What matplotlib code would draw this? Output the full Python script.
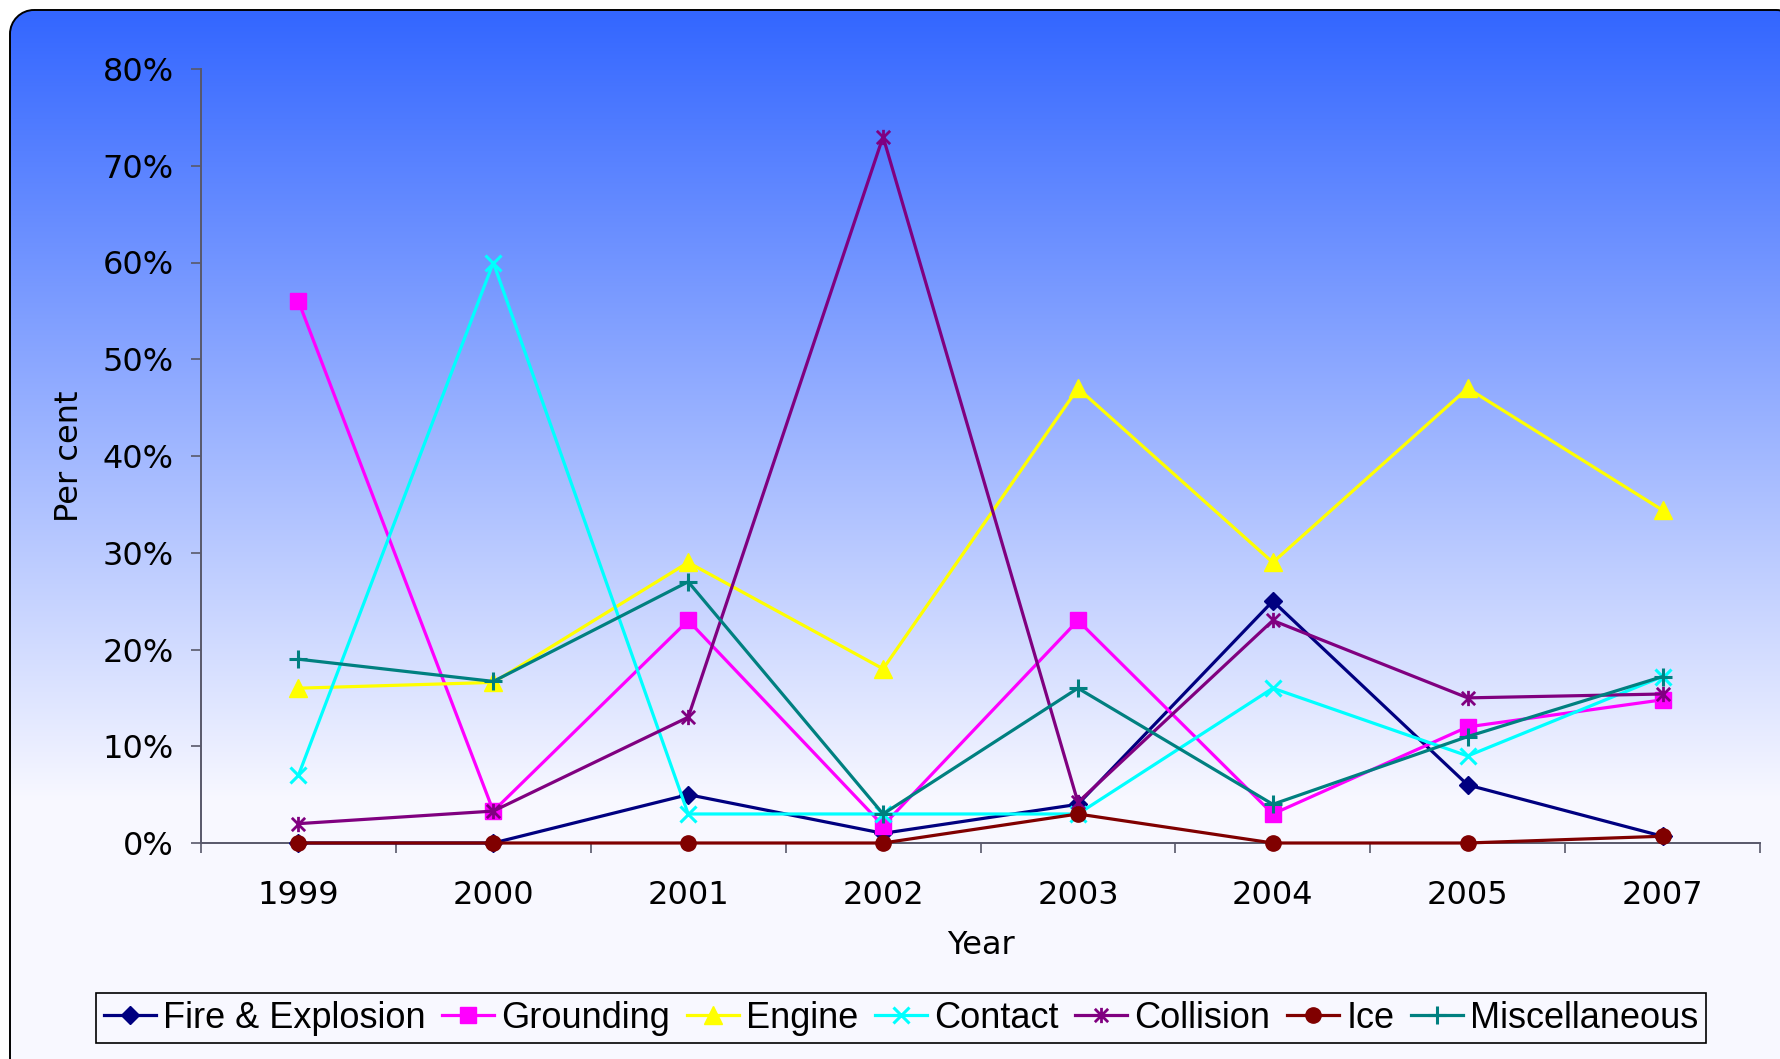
import numpy as np
import matplotlib
matplotlib.use("Agg")
import matplotlib.pyplot as plt
from matplotlib.patches import PathPatch
from matplotlib.path import Path
from matplotlib.transforms import IdentityTransform
from matplotlib.ticker import FuncFormatter

# ---------------- data ----------------
years = ["1999", "2000", "2001", "2002", "2003", "2004", "2005", "2007"]
fire_explosion = [0, 0, 5, 1, 4, 25, 6, 0.7]
grounding = [56, 3.3, 23, 1.8, 23, 3, 12, 14.8]
engine = [16, 16.6, 29, 18, 47, 29, 47, 34.4]
contact = [7, 60, 3, 3, 3, 16, 9, 17.2]
collision = [2, 3.3, 13, 73, 4.2, 23, 15, 15.4]
ice = [0, 0, 0, 0, 3, 0, 0, 0.7]
miscellaneous = [19, 16.7, 27, 3, 16, 4, 11, 17.2]

series_names = ["Fire & Explosion", "Grounding", "Engine", "Contact",
                "Collision", "Ice", "Miscellaneous"]
series_values = [fire_explosion, grounding, engine, contact,
                 collision, ice, miscellaneous]

# ---------------- styles ----------------
star = Path([(-1, -1), (1, 1), (-1, 1), (1, -1), (0, -1.15), (0, 1.15)],
            [Path.MOVETO, Path.LINETO, Path.MOVETO, Path.LINETO,
             Path.MOVETO, Path.LINETO])
styles = [
    dict(color="#000080", marker="D", ms=9.5),
    dict(color="#FF00FF", marker="s", ms=11.5),
    dict(color="#FFFF00", marker="^", ms=12.5),
    dict(color="#00FFFF", marker="x", ms=11, mew=2.2),
    dict(color="#800080", marker=star, ms=11, mew=2.0),
    dict(color="#800000", marker="o", ms=11),
    dict(color="#008080", marker="+", ms=13, mew=2.2),
]

W, H = 1780, 1059
fig = plt.figure(figsize=(W / 100, H / 100), dpi=100)

# ---------------- gradient background with rounded border ----------------
yy = np.arange(H)
t = np.clip((yy - 10) / 790.0, 0, 1)
top = np.array([0x33, 0x66, 0xFF], dtype=float)
bot = np.array([0xF8, 0xF8, 0xFF], dtype=float)
col = top[None, :] * (1 - t[:, None]) + bot[None, :] * t[:, None]
img = np.repeat(col[:, None, :], W, axis=1).astype(np.uint8)
im = fig.figimage(img, 0, 0, origin="upper", zorder=-10)

# rounded rectangle in pixel coords (given top-down, converted to display y-up)
x0, y0, x1, y1, r = 10, 10, 1800, 1082, 24
k = 0.5523 * r
td = [
    (x0 + r, y0), (x1 - r, y0),
    (x1 - r + k, y0), (x1, y0 + r - k), (x1, y0 + r),
    (x1, y1 - r),
    (x1, y1 - r + k), (x1 - r + k, y1), (x1 - r, y1),
    (x0 + r, y1),
    (x0 + r - k, y1), (x0, y1 - r + k), (x0, y1 - r),
    (x0, y0 + r),
    (x0, y0 + r - k), (x0 + r - k, y0), (x0 + r, y0),
    (x0 + r, y0),
]
verts = [(px, H - py) for px, py in td]
codes = [Path.MOVETO, Path.LINETO,
         Path.CURVE4, Path.CURVE4, Path.CURVE4,
         Path.LINETO,
         Path.CURVE4, Path.CURVE4, Path.CURVE4,
         Path.LINETO,
         Path.CURVE4, Path.CURVE4, Path.CURVE4,
         Path.LINETO,
         Path.CURVE4, Path.CURVE4, Path.CURVE4,
         Path.CLOSEPOLY]
box = PathPatch(Path(verts, codes), facecolor="none", edgecolor="black",
                linewidth=1.4, transform=IdentityTransform(), zorder=-5)
fig.add_artist(box)
box.set_transform(IdentityTransform())
im.set_clip_path(box)

# ---------------- main axes ----------------
ax = fig.add_axes([201 / W, 1 - 843 / H, (1760 - 201) / W, (843 - 69) / H])
ax.set_facecolor("none")
x = np.arange(len(years))
handles = []
for i, (name, vals, st) in enumerate(zip(series_names, series_values, styles)):
    ln, = ax.plot(x, vals, color=st["color"], lw=2.3, marker=st["marker"],
                  markersize=st["ms"], markeredgewidth=st.get("mew", 1.0),
                  markeredgecolor=st["color"], markerfacecolor=st["color"],
                  label=name, zorder=3 + i, clip_on=False)
    handles.append(ln)

ax.set_ylim(0, 80)
ax.set_yticks(np.arange(0, 81, 10))
ax.yaxis.set_major_formatter(FuncFormatter(lambda v, p: f"{v:.0f}%"))
ax.set_xlim(-0.5, len(years) - 0.5)
ax.set_xticks(np.arange(-0.5, len(years), 1.0))
ax.set_xticklabels([])
ax.set_xticks(x, labels=years, minor=True)
axis_col = "#58586a"
ax.tick_params(axis="x", which="minor", length=0, pad=27, labelsize=23,
               labelfontfamily="DejaVu Sans")
ax.tick_params(axis="x", which="major", length=7.5, width=1.2, color=axis_col)
ax.tick_params(axis="y", which="major", length=7.5, width=1.2, color=axis_col,
               pad=12, labelsize=23, labelfontfamily="DejaVu Sans")
for s in ["top", "right"]:
    ax.spines[s].set_visible(False)
for s in ["left", "bottom"]:
    ax.spines[s].set_color(axis_col)
    ax.spines[s].set_linewidth(1.4)

fig.text(981 / W, 1 - 946 / H, "Year", ha="center", va="center",
         fontsize=23, family="DejaVu Sans")
fig.text(70 / W, 1 - 456 / H, "Per cent", ha="center", va="center",
         rotation=90, fontsize=23, family="DejaVu Sans")

leg = fig.legend(handles=handles, loc="center", ncol=7,
                 bbox_to_anchor=(901 / W, 1 - 1018 / H),
                 prop=dict(family="Liberation Sans", size=26),
                 frameon=True, fancybox=False, framealpha=1,
                 facecolor="#F8F8FF", edgecolor="black",
                 handlelength=1.45, handletextpad=0.2, columnspacing=0.45,
                 borderpad=0.2, borderaxespad=0)
leg.get_frame().set_linewidth(1.2)

fig.savefig("out.png", dpi=100)
